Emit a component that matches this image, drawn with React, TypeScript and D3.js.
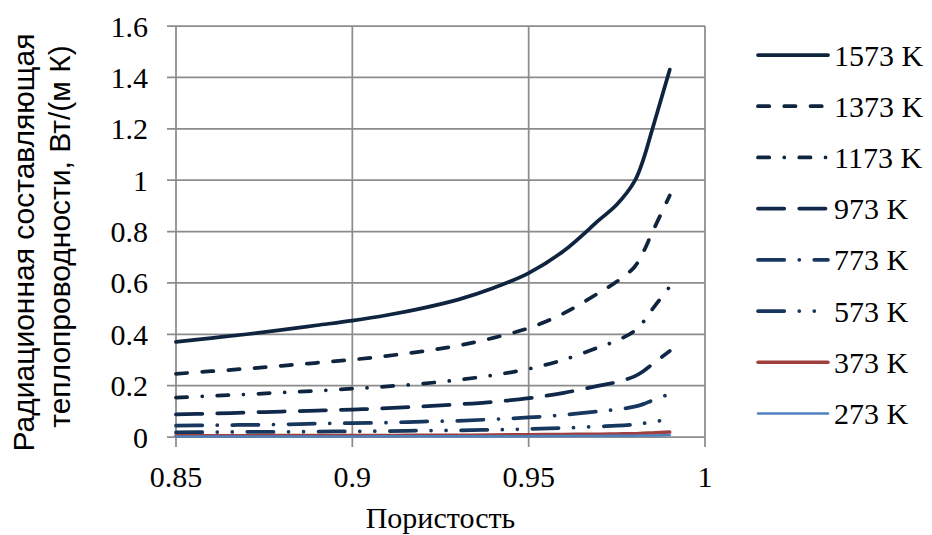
import React from "react";
import * as d3 from "d3";

// Porosity values (x) and radiative conductivity for each temperature, W/(m K)
const porosity = [0.85, 0.86, 0.87, 0.88, 0.89, 0.9, 0.91, 0.92, 0.93, 0.94, 0.95, 0.96, 0.97, 0.975, 0.98, 0.9825, 0.985, 0.99];

const k1573 = [0.37, 0.385, 0.4, 0.417, 0.435, 0.453, 0.475, 0.502, 0.535, 0.58, 0.638, 0.725, 0.845, 0.905, 0.995, 1.08, 1.195, 1.43];
const k1373 = [0.246, 0.256, 0.266, 0.277, 0.289, 0.301, 0.316, 0.334, 0.356, 0.386, 0.424, 0.482, 0.562, 0.605, 0.662, 0.72, 0.795, 0.94];
const k1173 = [0.153, 0.16, 0.166, 0.173, 0.18, 0.188, 0.197, 0.208, 0.222, 0.241, 0.265, 0.301, 0.35, 0.375, 0.413, 0.448, 0.496, 0.585];
const k973 = [0.088, 0.091, 0.095, 0.099, 0.103, 0.107, 0.112, 0.119, 0.127, 0.137, 0.151, 0.172, 0.2, 0.214, 0.236, 0.256, 0.283, 0.335];
const k773 = [0.044, 0.046, 0.047, 0.049, 0.052, 0.054, 0.056, 0.06, 0.063, 0.069, 0.076, 0.086, 0.1, 0.107, 0.118, 0.128, 0.142, 0.168];
const k573 = [0.018, 0.019, 0.02, 0.02, 0.021, 0.022, 0.023, 0.025, 0.026, 0.028, 0.031, 0.035, 0.041, 0.044, 0.049, 0.053, 0.058, 0.07];
const k373 = [0.005, 0.005, 0.005, 0.006, 0.006, 0.006, 0.006, 0.007, 0.007, 0.008, 0.009, 0.01, 0.011, 0.012, 0.013, 0.015, 0.016, 0.019];
const k273 = [0.002, 0.002, 0.002, 0.002, 0.002, 0.002, 0.003, 0.003, 0.003, 0.003, 0.003, 0.004, 0.004, 0.005, 0.005, 0.006, 0.006, 0.008];

const seriesLabels = ["1573 K", "1373 K", "1173 K", "973 K", "773 K", "573 K", "373 K", "273 K"];
const seriesValues = [k1573, k1373, k1173, k973, k773, k573, k373, k273];

const xTicks = [0.85, 0.9, 0.95, 1];
const xTickLabels = ["0.85", "0.9", "0.95", "1"];
const yTicks = [0, 0.2, 0.4, 0.6, 0.8, 1, 1.2, 1.4, 1.6];
const yTickLabels = ["0", "0.2", "0.4", "0.6", "0.8", "1", "1.2", "1.4", "1.6"];

const W = 932;
const H = 535;
const left = 176;
const right = 705;
const top = 26;
const bottom = 437;

const w = 3.75;
const DOT = 0.01;
const dashPatterns: Record<string, string> = {
  solid: "",
  dash: [3 * w, 4 * w].join(" "),
  dashDot: [3 * w, 4 * w, DOT, 4 * w].join(" "),
  longDash: [7 * w, 4 * w].join(" "),
  longDashDot: [7 * w, 4 * w, DOT, 4 * w].join(" "),
  longDashDotDot: [7 * w, 4 * w, DOT, 4 * w, DOT, 4 * w].join(" "),
};

const styles = [
  { color: "#0f243e", width: w, dash: "solid" },
  { color: "#0f243e", width: w, dash: "dash" },
  { color: "#0f243e", width: w, dash: "dashDot" },
  { color: "#10284a", width: w, dash: "longDash" },
  { color: "#17375e", width: w, dash: "longDashDot" },
  { color: "#17375e", width: w, dash: "longDashDotDot" },
  { color: "#a0403e", width: 3.5, dash: "solid" },
  { color: "#4f81bd", width: 2.5, dash: "solid" },
];

const SERIF = "'Liberation Serif', 'Times New Roman', serif";
const SANS = "'Liberation Sans', Arial, sans-serif";
const GRID = "#8c8c8c";
const FS = 30;

export default function App() {
  const x = d3.scaleLinear().domain([0.85, 1]).range([left, right]);
  const y = d3.scaleLinear().domain([0, 1.6]).range([bottom, top]);

  const line = d3
    .line<number>()
    .x((_, i) => x(porosity[i]))
    .y((d) => y(d))
    .curve(d3.curveCatmullRom.alpha(0.5));

  const legendX0 = 758;
  const legendX1 = 828;
  const legendY0 = 55;
  const legendStep = 51.2;

  return (
    <svg
      width={W}
      height={H}
      style={{ position: "absolute", left: 0, top: 0, background: "#fff" }}
    >
      {/* horizontal grid lines with left tick stubs */}
      {yTicks.map((t) => (
        <line
          key={"gy" + t}
          x1={left - 9}
          x2={right}
          y1={y(t)}
          y2={y(t)}
          stroke={GRID}
          strokeWidth={1.75}
        />
      ))}
      {/* vertical grid lines with bottom tick stubs */}
      {xTicks.map((t) => (
        <line
          key={"gx" + t}
          x1={x(t)}
          x2={x(t)}
          y1={top}
          y2={bottom + 10}
          stroke={GRID}
          strokeWidth={1.75}
        />
      ))}

      {/* series */}
      {seriesValues.map((vals, i) => (
        <path
          key={seriesLabels[i]}
          d={line(vals) || ""}
          fill="none"
          stroke={styles[i].color}
          strokeWidth={styles[i].width}
          strokeDasharray={dashPatterns[styles[i].dash] || undefined}
          strokeLinecap="round"
          strokeLinejoin="round"
        />
      ))}

      {/* y tick labels */}
      {yTicks.map((t, i) => (
        <text
          key={"ly" + t}
          x={148}
          y={y(t)}
          dy="0.35em"
          textAnchor="end"
          fontFamily={SERIF}
          fontSize={FS}
          fill="#000"
        >
          {yTickLabels[i]}
        </text>
      ))}
      {/* x tick labels */}
      {xTicks.map((t, i) => (
        <text
          key={"lx" + t}
          x={x(t)}
          y={487}
          textAnchor="middle"
          fontFamily={SERIF}
          fontSize={FS}
          fill="#000"
        >
          {xTickLabels[i]}
        </text>
      ))}

      {/* axis titles */}
      <text
        x={(left + right) / 2}
        y={528}
        textAnchor="middle"
        fontFamily={SERIF}
        fontSize={FS}
        fill="#000"
      >
        Пористость
      </text>
      <text
        transform={`translate(34, ${(top + bottom) / 2 + 11}) rotate(-90)`}
        textAnchor="middle"
        fontFamily={SANS}
        fontSize={FS}
        fill="#000"
      >
        Радиационная составляющая
      </text>
      <text
        transform={`translate(70, ${(top + bottom) / 2 + 5}) rotate(-90)`}
        textAnchor="middle"
        fontFamily={SANS}
        fontSize={FS}
        fill="#000"
      >
        теплопроводности, Вт/(м К)
      </text>

      {/* legend */}
      {seriesLabels.map((lab, i) => {
        const ly = legendY0 + i * legendStep;
        return (
          <g key={"leg" + lab}>
            <line
              x1={legendX0}
              x2={legendX1}
              y1={ly}
              y2={ly}
              stroke={styles[i].color}
              strokeWidth={styles[i].width}
              strokeDasharray={dashPatterns[styles[i].dash] || undefined}
              strokeLinecap="round"
            />
            <text
              x={834}
              y={ly}
              dy="0.35em"
              fontFamily={SERIF}
              fontSize={FS}
              fill="#000"
            >
              {lab}
            </text>
          </g>
        );
      })}
    </svg>
  );
}
